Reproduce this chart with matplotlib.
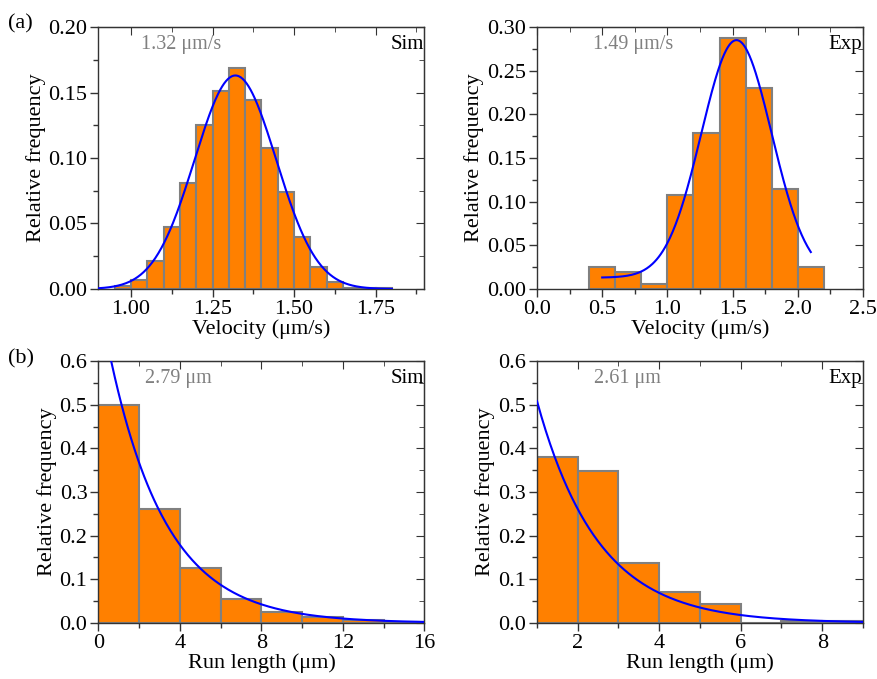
import numpy as np
import matplotlib
matplotlib.use('Agg')
import matplotlib.pyplot as plt
from matplotlib.ticker import MultipleLocator, FormatStrFormatter

plt.rcParams['font.family'] = ['Liberation Serif', 'DejaVu Serif']

# velocity, simulation (bin width 0.05)
vsim_edges = [0.95, 1.00, 1.05, 1.10, 1.15, 1.20, 1.25, 1.30, 1.35, 1.40, 1.45,
              1.50, 1.55, 1.60, 1.65, 1.70, 1.75, 1.80]
vsim_freq = [0.002, 0.007, 0.021, 0.047, 0.081, 0.125, 0.151, 0.169, 0.144,
             0.108, 0.074, 0.040, 0.017, 0.005, 0.001, 0.0008, 0.0005]
vsim_fit = dict(xc=1.32, w=0.125, A=0.163, y0=0.0, x0=0.9, x1=1.8)

# velocity, experiment (bin width 0.2)
vexp_edges = [0.4, 0.6, 0.8, 1.0, 1.2, 1.4, 1.6, 1.8, 2.0, 2.2]
vexp_freq = [0.025, 0.019, 0.006, 0.108, 0.179, 0.288, 0.230, 0.115, 0.025]
vexp_fit = dict(xc=1.53, w=0.27, A=0.272, y0=0.013, x0=0.5, x1=2.1)

# run length, simulation (bin width 2)
rsim_edges = [0, 2, 4, 6, 8, 10, 12, 14, 16]
rsim_freq = [0.500, 0.262, 0.125, 0.054, 0.025, 0.014, 0.006, 0.002]
rsim_fit = dict(A=0.75, t=2.79, x0=0.0, x1=16.0)

# run length, experiment (bin width 1)
rexp_edges = [1, 2, 3, 4, 5, 6, 7, 8, 9]
rexp_freq = [0.381, 0.348, 0.138, 0.071, 0.044, 0.0, 0.005, 0.005]
rexp_fit = dict(A=0.99, t=1.5, x0=1.0, x1=9.0)

BAR = '#FF8000'
EDGE = '#808080'
LINE = '#0000FF'
FRAME = '#333333'
TICK_FS = 16
LABEL_FS = 16


def gauss(p):
    x = np.linspace(p['x0'], p['x1'], 300)
    return x, p['y0'] + p['A'] * np.exp(-(x - p['xc'])**2 / (2 * p['w']**2))


def expdecay(p):
    x = np.linspace(p['x0'], p['x1'], 300)
    return x, p['A'] * np.exp(-x / p['t'])


def style(ax, xmaj, xmin, ymaj, ymin):
    ax.xaxis.set_major_locator(MultipleLocator(xmaj))
    ax.xaxis.set_minor_locator(MultipleLocator(xmin))
    ax.yaxis.set_major_locator(MultipleLocator(ymaj))
    ax.yaxis.set_minor_locator(MultipleLocator(ymin))
    for s in ax.spines.values():
        s.set_color(FRAME)
        s.set_linewidth(1.0)
    ax.tick_params(which='both', direction='out', color=FRAME, labelsize=TICK_FS,
                   top=False, right=False, pad=2)
    ax.tick_params(which='major', length=6, width=1)
    ax.tick_params(which='minor', length=3.5, width=1)
    # top/right ticks point inward
    sec_x = ax.secondary_xaxis('top')
    sec_x.xaxis.set_major_locator(MultipleLocator(xmaj))
    sec_x.xaxis.set_minor_locator(MultipleLocator(xmin))
    sec_x.tick_params(which='both', direction='in', color=FRAME, labeltop=False)
    sec_x.tick_params(which='major', length=6)
    sec_x.tick_params(which='minor', length=3.5)
    sec_x.spines['top'].set_color(FRAME)
    sec_y = ax.secondary_yaxis('right')
    sec_y.yaxis.set_major_locator(MultipleLocator(ymaj))
    sec_y.yaxis.set_minor_locator(MultipleLocator(ymin))
    sec_y.tick_params(which='both', direction='in', color=FRAME, labelright=False)
    sec_y.tick_params(which='major', length=6)
    sec_y.tick_params(which='minor', length=3.5)
    sec_y.spines['right'].set_color(FRAME)


def hist(ax, edges, freq):
    edges = np.array(edges, dtype=float)
    ax.bar(edges[:-1], freq, width=np.diff(edges), align='edge', color=BAR,
           edgecolor=EDGE, linewidth=1.5, zorder=2)


def labels(ax, xlabel, value, x_value, tag):
    ax.set_xlabel(xlabel, fontsize=LABEL_FS, labelpad=0)
    ax.set_ylabel('Relative frequency', fontsize=LABEL_FS, labelpad=2)
    ax.text(x_value, 0.935, value, transform=ax.transAxes, color='#808080',
            fontsize=14.5, va='center', ha='left')
    ax.text(0.998, 0.935, tag, transform=ax.transAxes, color='black',
            fontsize=15, va='center', ha='right')


fig = plt.figure(figsize=(8.77, 6.79), dpi=100)
L1, W = 0.1123, 0.3717
L2 = 0.6123
B1, H = 0.5744, 0.3858
B2 = 0.0825

ax1 = fig.add_axes([L1, B1, W, H])
hist(ax1, vsim_edges, vsim_freq)
ax1.plot(*gauss(vsim_fit), color=LINE, lw=1.5, zorder=3)
ax1.set_xlim(0.9, 1.9)
ax1.set_ylim(0, 0.20)
ax1.xaxis.set_major_formatter(FormatStrFormatter('%.2f'))
ax1.yaxis.set_major_formatter(FormatStrFormatter('%.2f'))
style(ax1, 0.25, 0.125, 0.05, 0.025)
ax1.set_xticks([1.00, 1.25, 1.50, 1.75])
labels(ax1, 'Velocity (μm/s)', '1.32 μm/s', 0.13, 'Sim')

ax2 = fig.add_axes([L2, B1, W, H])
hist(ax2, vexp_edges, vexp_freq)
ax2.plot(*gauss(vexp_fit), color=LINE, lw=1.5, zorder=3)
ax2.set_xlim(0, 2.5)
ax2.set_ylim(0, 0.30)
ax2.xaxis.set_major_formatter(FormatStrFormatter('%.1f'))
ax2.yaxis.set_major_formatter(FormatStrFormatter('%.2f'))
style(ax2, 0.5, 0.25, 0.05, 0.025)
labels(ax2, 'Velocity (μm/s)', '1.49 μm/s', 0.172, 'Exp')

ax3 = fig.add_axes([L1, B2, W, H])
hist(ax3, rsim_edges, rsim_freq)
ax3.plot(*expdecay(rsim_fit), color=LINE, lw=1.5, zorder=3)
ax3.set_xlim(0, 16)
ax3.set_ylim(0, 0.6)
ax3.yaxis.set_major_formatter(FormatStrFormatter('%.1f'))
style(ax3, 4, 2, 0.1, 0.05)
labels(ax3, 'Run length (μm)', '2.79 μm', 0.143, 'Sim')

ax4 = fig.add_axes([L2, B2, W, H])
hist(ax4, rexp_edges, rexp_freq)
ax4.plot(*expdecay(rexp_fit), color=LINE, lw=1.5, zorder=3)
ax4.set_xlim(1, 9)
ax4.set_ylim(0, 0.6)
ax4.yaxis.set_major_formatter(FormatStrFormatter('%.1f'))
style(ax4, 2, 1, 0.1, 0.05)
labels(ax4, 'Run length (μm)', '2.61 μm', 0.175, 'Exp')

fig.text(0.009, 0.965, '(a)', fontsize=16, va='center', ha='left')
fig.text(0.009, 0.472, '(b)', fontsize=16, va='center', ha='left')

fig.savefig('out.png', dpi=100)
